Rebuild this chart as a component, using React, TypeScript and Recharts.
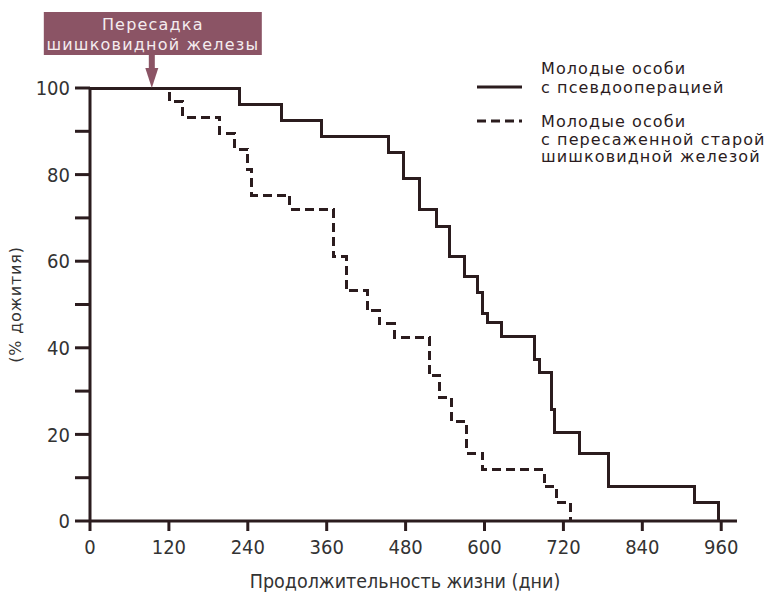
import React from "react"
import { LineChart, Line, XAxis, YAxis, ReferenceDot } from "recharts"

// survival curves (days, % surviving)
const shamDays = [0, 228, 292, 352, 454, 477, 501, 527, 547, 570, 589, 597, 605, 626, 676, 684, 702, 707, 745, 788, 920, 956]
const shamSurvival = [100, 96.3, 92.6, 88.9, 85.2, 79, 72, 68, 61, 56.5, 52.8, 48, 45.8, 42.5, 37.3, 34.3, 25.7, 20.4, 15.7, 7.9, 4.2, 0]

const graftDays = [0, 121, 141, 197, 220, 240, 246, 304, 370, 390, 422, 440, 463, 516, 532, 550, 573, 597, 691, 710, 731]
const graftSurvival = [100, 96.8, 93.3, 89.4, 85.9, 81.2, 75.2, 72, 61, 53.2, 48.6, 45.6, 42.4, 33.6, 28.5, 22.9, 15.7, 11.8, 7.9, 4.2, 0]

const xTicks = [0, 120, 240, 360, 480, 600, 720, 840, 960]
const yTicks = [0, 10, 20, 30, 40, 50, 60, 70, 80, 90, 100]

const transplantDay = 94
const shamLabel = ["Молодые особи", "с псевдооперацией"]
const graftLabel = ["Молодые особи", "с пересаженной старой", "шишковидной железой"]

const INK = "#2b1c1e"
const MAUVE = "#8b5465"
const NARROW = "'Liberation Sans Narrow', 'DejaVu Sans Condensed', sans-serif"
const WIDE = "'DejaVu Sans', sans-serif"

const shamData = shamDays.map((day, i) => ({ day, survival: shamSurvival[i] }))
const graftData = graftDays.map((day, i) => ({ day, survival: graftSurvival[i] }))

const TransplantMarker = (props: any) => {
  const { cx, cy } = props
  return (
    <g>
      <rect x={cx - 108} y={cy - 76} width={218} height={43} fill={MAUVE} />
      <text x={cx + 1} y={cy - 58} textAnchor="middle" fill="#f4ecef" fontSize={16} fontFamily={WIDE} letterSpacing={1.2}>
        Пересадка
      </text>
      <text x={cx + 1} y={cy - 38} textAnchor="middle" fill="#f4ecef" fontSize={16} fontFamily={WIDE} letterSpacing={1.2}>
        шишковидной железы
      </text>
      <rect x={cx - 3} y={cy - 33} width={6} height={14} fill={MAUVE} />
      <polygon points={`${cx - 6.5},${cy - 20} ${cx + 6.5},${cy - 20} ${cx},${cy}`} fill={MAUVE} />
    </g>
  )
}

function LegendOverlay() {
  const text = { fontSize: 16, fontFamily: WIDE, fill: INK, letterSpacing: 1.1 }
  return (
    <svg width={771} height={200} style={{ position: "absolute", left: 0, top: 0, pointerEvents: "none" }}>
      <line x1={477} y1={87} x2={522} y2={87} stroke={INK} strokeWidth={3} />
      <line x1={477} y1={121} x2={522} y2={121} stroke={INK} strokeWidth={3} strokeDasharray="9 5" />
      {shamLabel.map((t, i) => (
        <text key={t} x={541} y={74 + i * 19} {...text}>{t}</text>
      ))}
      {graftLabel.map((t, i) => (
        <text key={t} x={541} y={127 + i * 17.5} {...text}>{t}</text>
      ))}
    </svg>
  )
}

export default function App() {
  return (
    <div style={{ position: "absolute", left: 0, top: 0, width: 771, height: 594, background: "#fff" }}>
      <LineChart width={771} height={594} margin={{ top: 88, right: 34, bottom: 0, left: 30 }}>
        <XAxis
          dataKey="day"
          type="number"
          domain={[0, 984]}
          ticks={xTicks}
          interval={0}
          height={73}
          tickSize={10}
          tickMargin={9}
          axisLine={{ stroke: INK, strokeWidth: 3 }}
          tickLine={{ stroke: INK, strokeWidth: 3 }}
          tick={{ fill: "#333", fontSize: 20, fontFamily: NARROW }}
          label={{
            content: (p: any) => (
              <text x={405} y={p.viewBox.y + 67} textAnchor="middle" fill="#333" fontSize={19.5} fontFamily={NARROW}>
                Продолжительность жизни (дни)
              </text>
            ),
          }}
        />
        <YAxis
          dataKey="survival"
          type="number"
          domain={[0, 100]}
          ticks={yTicks}
          interval={0}
          width={60}
          tickSize={15}
          tickMargin={5}
          tickFormatter={(v: number) => (v % 20 === 0 ? String(v) : "")}
          axisLine={{ stroke: INK, strokeWidth: 3 }}
          tickLine={{ stroke: INK, strokeWidth: 3 }}
          tick={{ fill: "#333", fontSize: 20, fontFamily: NARROW }}
          label={{
            content: (p: any) => {
              const x = p.viewBox.x - 15
              const y = p.viewBox.y + p.viewBox.height / 2
              return (
                <text x={x} y={y} transform={`rotate(-90 ${x} ${y})`} textAnchor="middle" dominantBaseline="central" fill="#333" fontSize={16} fontFamily={WIDE} letterSpacing={0.8}>
                  (% дожития)
                </text>
              )
            },
          }}
        />
        <Line
          data={graftData}
          dataKey="survival"
          type="stepAfter"
          stroke={INK}
          strokeWidth={3}
          strokeDasharray="9 5"
          shapeRendering="crispEdges"
          dot={false}
          activeDot={false}
          isAnimationActive={false}
        />
        <Line
          data={shamData}
          dataKey="survival"
          type="stepAfter"
          stroke={INK}
          strokeWidth={3}
          shapeRendering="crispEdges"
          dot={false}
          activeDot={false}
          isAnimationActive={false}
        />
        <ReferenceDot x={transplantDay} y={100} r={0} shape={TransplantMarker} />
      </LineChart>
      <LegendOverlay />
    </div>
  )
}
